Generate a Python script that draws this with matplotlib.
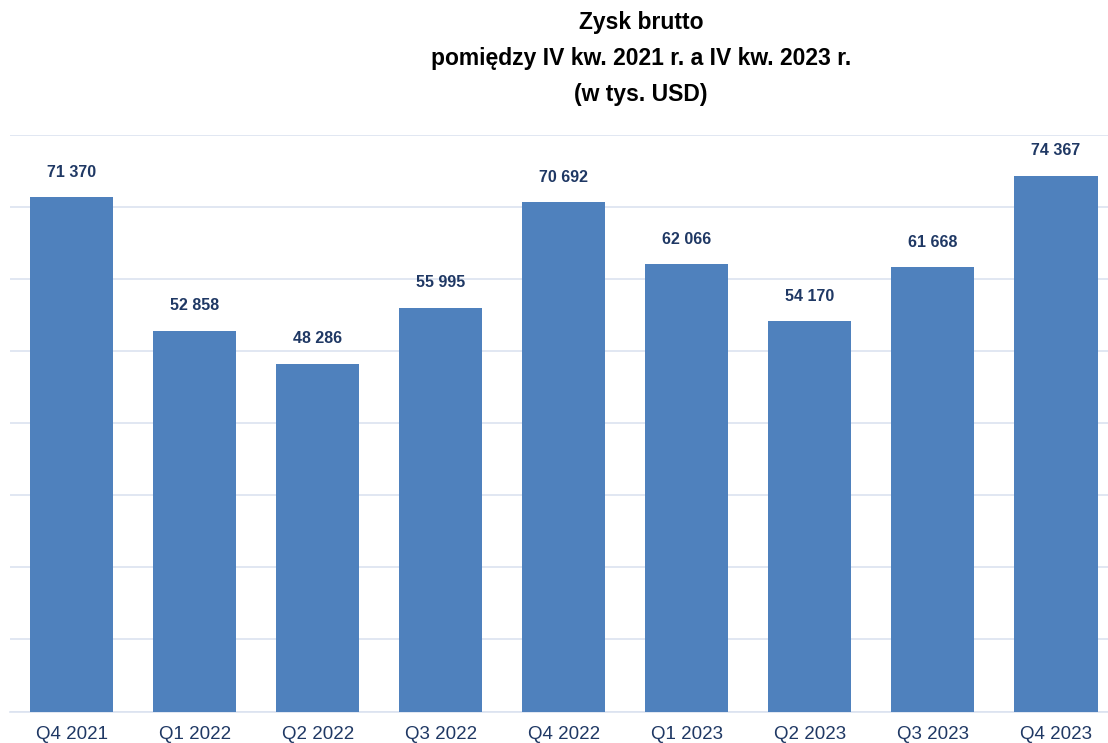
import matplotlib
matplotlib.use("Agg")
import matplotlib.pyplot as plt
from matplotlib.ticker import MultipleLocator

categories = ["Q4 2021", "Q1 2022", "Q2 2022", "Q3 2022", "Q4 2022",
              "Q1 2023", "Q2 2023", "Q3 2023", "Q4 2023"]
values = [71370, 52858, 48286, 55995, 70692, 62066, 54170, 61668, 74367]
value_labels = ["71 370", "52 858", "48 286", "55 995", "70 692",
                "62 066", "54 170", "61 668", "74 367"]
title_lines = ["Zysk brutto", "pomiędzy IV kw. 2021 r. a IV kw. 2023 r.", "(w tys. USD)"]

plt.rcParams['font.family'] = ['Liberation Sans', 'DejaVu Sans']

W, H = 1108, 743
fig = plt.figure(figsize=(W / 100, H / 100), dpi=100)
left_px, right_px = 10, 1108
top_px, bottom_px = 135, 711.5
ax = fig.add_axes([left_px / W, 1 - bottom_px / H,
                   (right_px - left_px) / W, (bottom_px - top_px) / H])

bar_color = "#4F81BD"
label_color = "#1F3864"
x = list(range(len(categories)))
ax.bar(x, values, width=0.675, color=bar_color, zorder=3)

slot = 123.06
ax.set_xlim(-0.5, -0.5 + (right_px - left_px) / slot)
ax.set_ylim(0, 80000)
ax.yaxis.set_major_locator(MultipleLocator(10000))
ax.grid(axis='y', color="#DCE3F0", linewidth=1.2, zorder=0)
ax.set_axisbelow(True)
ax.tick_params(axis='y', left=False, labelleft=False)
ax.tick_params(axis='x', bottom=False, pad=7, labelsize=13.5, labelcolor=label_color)
ax.set_xticks(x)
ax.set_xticklabels(categories)
for s in ["top", "right", "left"]:
    ax.spines[s].set_visible(False)
ax.spines["bottom"].set_color("#DCE3F0")
ax.spines["bottom"].set_linewidth(1.2)

for xi, v, lab in zip(x, values, value_labels):
    ax.annotate(lab, (xi, v), xytext=(0, 18), textcoords="offset points",
                ha="center", va="center", fontsize=11.5, fontweight="bold",
                color=label_color)

fig.text(641 / W, 1 - 58.5 / H, "\n".join(title_lines), ha="center", va="center",
         fontsize=16.5, fontweight="bold", color="black", linespacing=1.75)

fig.savefig("out.png", dpi=100, facecolor="white")
